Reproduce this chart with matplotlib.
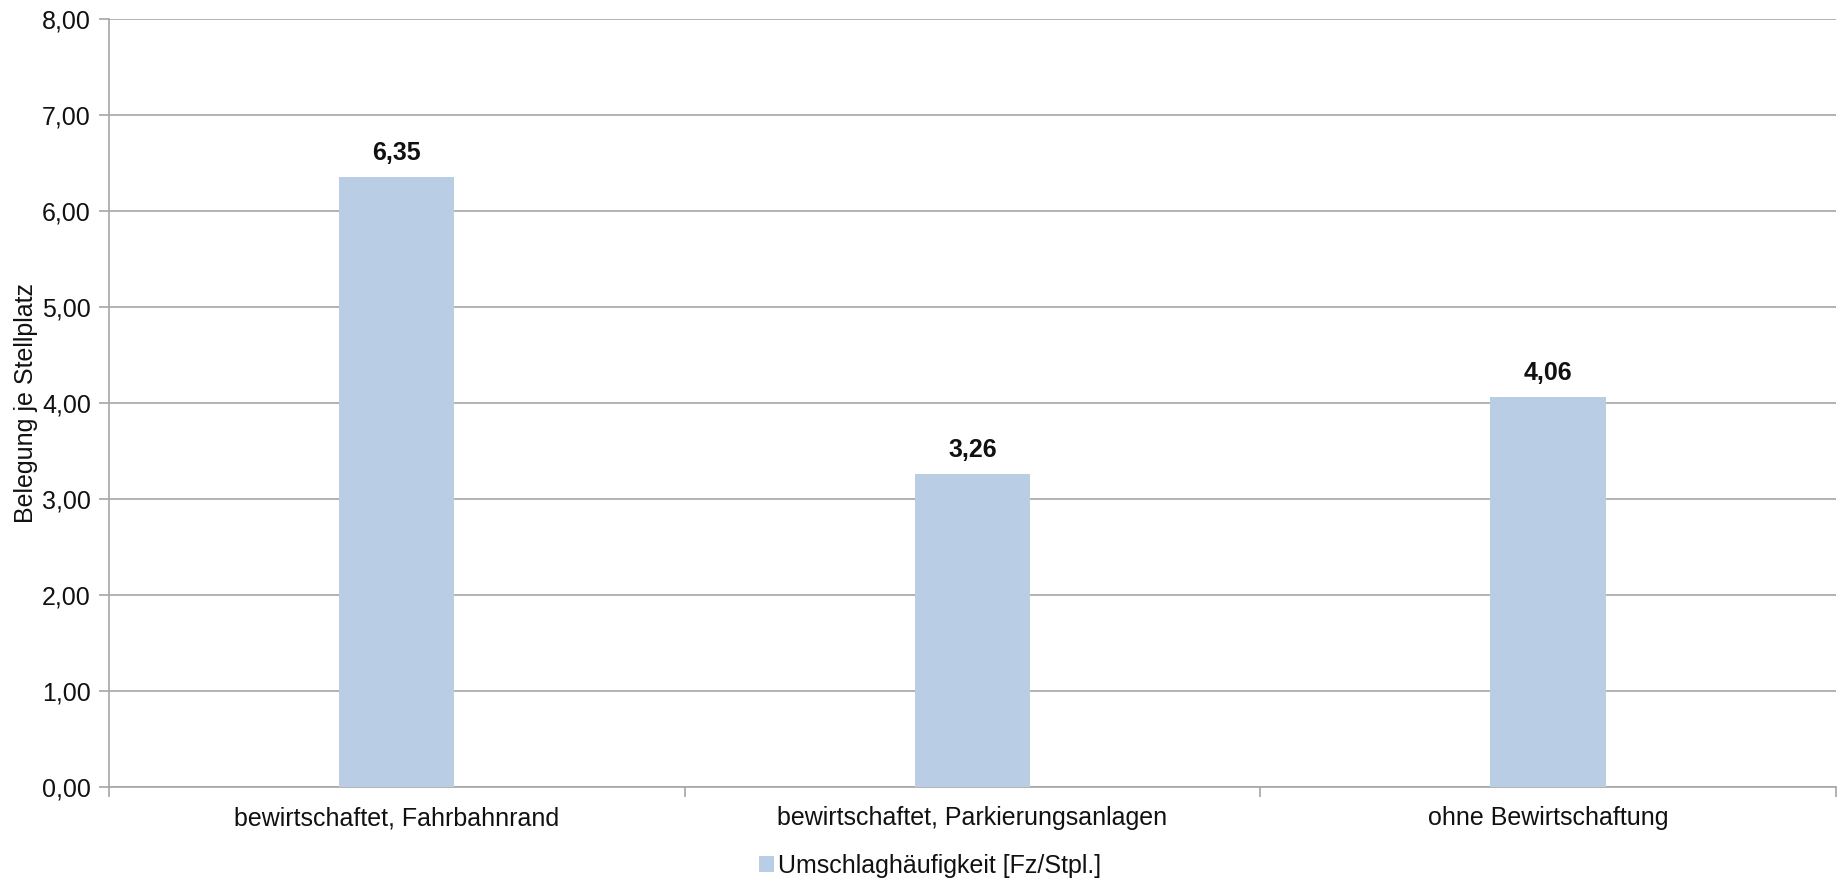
"""
Umschlaghäufigkeit je Stellplatz nach Bewirtschaftungsart.
"""

import matplotlib
matplotlib.use("Agg")
import matplotlib.pyplot as plt
from matplotlib.ticker import FuncFormatter, FixedLocator

plt.rcParams['font.family'] = ['Liberation Sans', 'DejaVu Sans']

categories = ["bewirtschaftet, Fahrbahnrand",
              "bewirtschaftet, Parkierungsanlagen",
              "ohne Bewirtschaftung"]
values = [6.35, 3.26, 4.06]
series_name = "Umschlaghäufigkeit [Fz/Stpl.]"
y_label = "Belegung je Stellplatz"

BAR_COLOR = "#b9cde5"
LINE_COLOR = "#a6a6a6"
TEXT_COLOR = "#111111"
FS = 18


def comma(v, pos=None):
    return f"{v:.2f}".replace(".", ",")


fig = plt.figure(figsize=(18.41, 8.8), dpi=100)
ax = fig.add_axes([0.0592, 0.1057, 0.938, 0.8727])

x = list(range(len(categories)))
bars = ax.bar(x, values, width=0.2, color=BAR_COLOR, label=series_name, zorder=3)

for rect, v in zip(bars, values):
    ax.annotate(comma(v), (rect.get_x() + rect.get_width() / 2, v),
                xytext=(0, 9), textcoords="offset points",
                ha="center", va="bottom", fontsize=FS, fontweight="bold",
                color=TEXT_COLOR)

ax.set_xlim(-0.5, len(categories) - 0.5)
ax.set_ylim(0, 8)
ax.set_yticks(range(0, 9))
ax.yaxis.set_major_formatter(FuncFormatter(comma))
ax.grid(axis="y", color=LINE_COLOR, linewidth=1.2, zorder=0)

# category labels centred, tick marks on the boundaries
ax.set_xticks(x)
ax.set_xticklabels(categories)
ax.xaxis.set_minor_locator(FixedLocator([i - 0.5 for i in range(len(categories) + 1)]))
ax.tick_params(axis="x", which="major", length=0, pad=14, labelsize=FS,
               labelcolor=TEXT_COLOR)
ax.tick_params(axis="x", which="minor", length=7, color=LINE_COLOR, width=1.2)
ax.tick_params(axis="y", length=7, color=LINE_COLOR, width=1.2, pad=6,
               labelsize=FS, labelcolor=TEXT_COLOR)

for side in ("top", "right"):
    ax.spines[side].set_visible(False)
for side in ("left", "bottom"):
    ax.spines[side].set_color(LINE_COLOR)
    ax.spines[side].set_linewidth(1.2)

ax.set_ylabel(y_label, fontsize=FS, color=TEXT_COLOR)
ax.yaxis.set_label_coords(-0.041, 0.5)

fig.legend(loc="center", bbox_to_anchor=(0.505, 0.016), frameon=False,
           fontsize=FS, handlelength=0.6, handleheight=0.6, handletextpad=0.15,
           labelcolor=TEXT_COLOR)

fig.savefig("out.png", dpi=100, facecolor="white")
